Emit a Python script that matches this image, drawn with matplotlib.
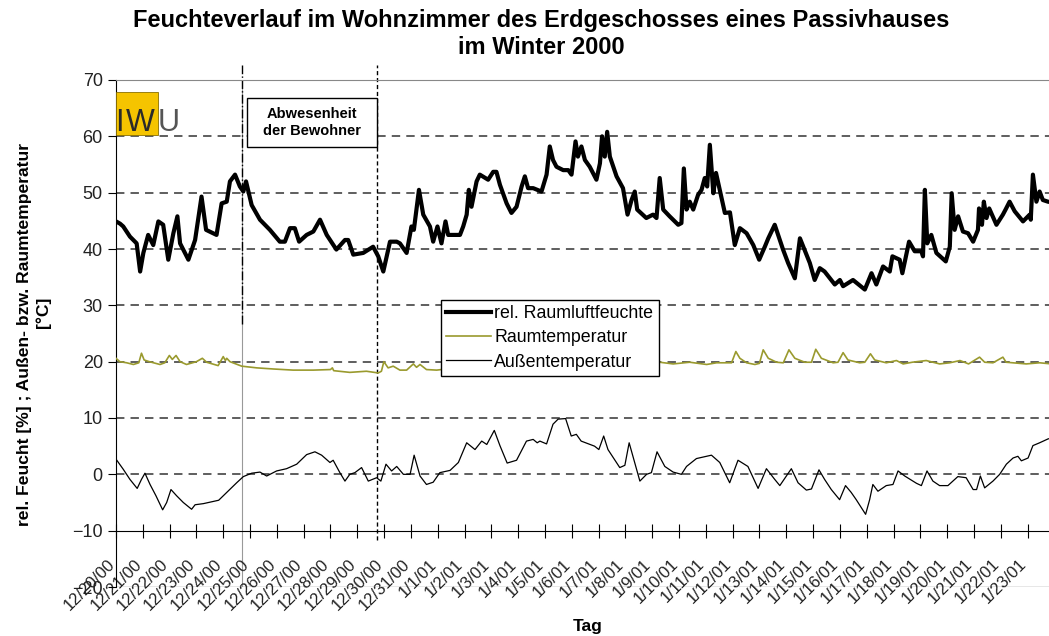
import matplotlib.pyplot as plt
import matplotlib.transforms as mtransforms
import pandas as pd
from matplotlib.patches import Rectangle

plt.rcParams['font.family'] = ['Liberation Sans', 'DejaVu Sans']

# Tage ab 20.12.2000 (0 = 12/20/00 00:00)
days = pd.date_range('2000-12-20', '2001-01-23')
tick_labels = [f"{d.month}/{d.day}/{d:%y}" for d in days]

# rel. Raumluftfeuchte [%]
hum_day = [0.00, 0.15, 0.27, 0.52, 0.77, 0.90, 1.02, 1.20, 1.39, 1.58, 1.76, 1.95, 2.14, 2.29,
           2.39, 2.70, 2.95, 3.19, 3.36, 3.75, 3.94, 4.13, 4.25, 4.44, 4.62, 4.75, 4.85, 5.06,
           5.37, 5.74, 6.11, 6.30, 6.49, 6.67, 6.83, 7.11, 7.36, 7.61, 7.86, 8.22, 8.54, 8.66,
           8.85, 9.22, 9.59, 9.78, 9.97, 10.22, 10.47, 10.59, 10.84, 11.02, 11.11, 11.30, 11.46,
           11.71, 11.83, 11.99, 12.14, 12.29, 12.39, 12.83, 12.95, 13.08, 13.16, 13.26, 13.45,
           13.57, 13.88, 14.07, 14.19, 14.32, 14.57, 14.75, 14.94, 15.13, 15.25, 15.37, 15.56,
           15.87, 16.06, 16.18, 16.30, 16.43, 16.68, 16.87, 16.99, 17.14, 17.23, 17.36, 17.49,
           17.67, 17.92, 18.05, 18.13, 18.23, 18.32, 18.42, 18.67, 18.91, 19.08, 19.23, 19.35,
           19.44, 19.78, 20.03, 20.16, 20.28, 20.41, 20.65, 20.97, 21.09, 21.18, 21.28, 21.40,
           21.53, 21.71, 21.84, 21.96, 22.05, 22.15, 22.28, 22.38, 22.52, 22.71, 22.90, 23.08,
           23.27, 23.52, 23.77, 23.99, 24.20, 24.33, 24.57, 24.88, 25.07, 25.32, 25.51, 25.88,
           26.06, 26.25, 26.43, 26.81, 27.00, 27.12, 27.49, 27.93, 28.18, 28.36, 28.61, 28.86,
           28.96, 29.23, 29.33, 29.58, 29.79, 30.04, 30.10, 30.17, 30.26, 30.41, 30.60, 30.95,
           31.10, 31.17, 31.28, 31.41, 31.59, 31.78, 31.97, 32.15, 32.19, 32.30, 32.37, 32.47,
           32.57, 32.84, 33.08, 33.18, 33.33, 33.52, 33.83, 34.08, 34.12, 34.20, 34.33, 34.45,
           34.57, 34.76, 34.90]
hum_val = [44.9, 44.5, 44.0, 42.2, 41.0, 36.0, 39.3, 42.5, 40.7, 44.9, 44.3, 38.1, 42.8, 45.8,
           41.0, 38.1, 41.6, 49.3, 43.4, 42.5, 48.1, 48.4, 52.0, 53.2, 51.1, 50.2, 52.0, 47.8,
           45.2, 43.4, 41.3, 41.3, 43.7, 43.7, 41.3, 42.5, 43.1, 45.2, 42.5, 39.9, 41.6, 41.6,
           39.0, 39.3, 40.4, 38.7, 36.0, 41.3, 41.3, 41.0, 39.3, 44.0, 43.4, 50.5, 46.1,
           44.0, 41.3, 44.0, 41.0, 44.9, 42.5, 42.5, 44.0, 46.1, 50.5, 47.5, 52.0,
           53.2, 52.3, 53.7, 53.7, 51.4, 48.1, 46.4, 47.5, 51.1, 52.9, 50.8, 50.8,
           50.2, 53.2, 58.2, 55.8, 54.6, 54.0, 54.0, 53.2, 59.1, 56.4, 58.2, 55.8,
           54.6, 52.3, 55.2, 60.0, 56.4, 60.8, 56.4, 52.9, 50.8, 46.1, 48.7, 50.2,
           47.0, 45.5, 46.1, 45.5, 52.6, 47.0, 45.8, 44.3, 44.6, 54.3, 47.0, 48.4,
           47.0, 49.6, 50.5, 52.6, 51.1, 58.5, 49.9, 53.5, 50.5, 46.4, 46.5, 40.7,
           43.7, 42.8, 40.7, 38.1, 40.4, 41.9, 44.3, 39.9, 37.5, 34.8, 41.9, 37.5,
           34.5, 36.6, 36.0, 33.7, 34.5, 33.4, 34.5, 32.8, 35.7, 33.7, 36.9, 36.0,
           38.7, 38.1, 35.7, 41.3, 39.6, 39.6, 38.7, 50.5, 41.0, 42.5, 39.3, 37.8,
           40.4, 49.9, 43.4, 45.8, 43.1, 42.8, 41.3, 43.4, 47.2, 44.3, 48.4, 45.5,
           47.2, 44.3, 46.1, 47.0, 48.4, 46.7, 44.9, 46.1, 45.2, 53.2, 48.4, 50.2,
           48.7, 48.4, 48.3]

# Raumtemperatur [°C]
tin_day = [0.00, 0.14, 0.40, 0.65, 0.85, 0.95, 1.05, 1.24, 1.64, 1.82, 1.99, 2.10, 2.14, 2.24,
           2.39, 2.63, 3.00, 3.22, 3.38, 3.81, 4.00, 4.08, 4.13, 4.25, 4.69, 5.25, 5.87, 6.61,
           7.36, 8.00, 8.07, 8.12, 8.72, 9.34, 9.78, 9.90, 9.99, 10.15, 10.34, 10.59, 10.84,
           11.09, 11.21, 11.34, 11.58, 11.96, 12.50, 13.50, 14.50, 15.50, 16.50, 17.50, 18.50,
           19.50, 20.28, 20.78, 21.40, 22.03, 22.40, 22.96, 23.12, 23.27, 23.52, 23.83, 24.00,
           24.14, 24.33, 24.64, 24.89, 25.10, 25.32, 25.69, 25.94, 26.10, 26.31, 26.75, 26.93,
           27.12, 27.30, 27.74, 27.93, 28.14, 28.30, 28.73, 29.11, 29.36, 29.70, 30.22, 30.72,
           31.10, 31.48, 31.80, 32.21, 32.40, 32.71, 33.08, 33.20, 33.95, 34.45, 34.90]
tin_val = [20.6, 20.0, 19.8, 19.5, 19.8, 21.5, 20.3, 20.0, 19.5, 19.8, 21.1, 20.4, 20.6, 21.1,
           20.0, 19.5, 20.0, 20.6, 19.9, 19.3, 20.9, 20.2, 20.6, 20.0, 19.2, 18.9, 18.7, 18.5,
           18.5, 18.6, 18.9, 18.4, 18.1, 18.3, 18.0, 18.3, 20.0, 18.9, 19.2, 18.5, 18.5,
           19.6, 19.0, 19.5, 18.6, 18.5, 18.8, 18.9, 19.0, 19.1, 19.2, 19.3, 19.4,
           19.5, 19.9, 19.6, 19.9, 19.5, 19.8, 19.8, 21.8, 20.6, 19.8, 19.5, 19.7,
           22.1, 20.6, 19.9, 19.8, 22.1, 20.6, 19.9, 19.9, 22.2, 20.6, 19.8, 19.9,
           21.6, 20.3, 19.8, 19.9, 21.4, 20.3, 19.8, 20.2, 19.6, 19.9, 20.2, 19.6,
           19.8, 20.2, 19.6, 20.8, 19.9, 19.8, 20.8, 19.9, 19.6, 19.8, 19.6]

# Außentemperatur [°C]
tout_day = [0.00, 0.27, 0.52, 0.79, 0.95, 1.08, 1.27, 1.49, 1.74, 1.89, 2.05, 2.26, 2.51, 2.82,
            2.95, 3.26, 3.64, 3.83, 4.13, 4.50, 4.75, 5.06, 5.37, 5.62, 5.99, 6.36, 6.74, 7.11,
            7.42, 7.67, 7.98, 8.10, 8.35, 8.54, 8.72, 8.91, 9.16, 9.41, 9.72, 9.88, 10.07, 10.28,
            10.47, 10.72, 10.97, 11.12, 11.34, 11.58, 11.83, 12.08, 12.46, 12.77, 13.08, 13.39,
            13.64, 13.83, 14.11, 14.32, 14.59, 14.94, 15.31, 15.56, 15.71, 15.81, 16.06, 16.30,
            16.49, 16.77, 16.98, 17.17, 17.35, 17.85, 18.01, 18.19, 18.35, 18.79, 18.98, 19.14,
            19.54, 19.79, 19.97, 20.18, 20.47, 20.78, 21.09, 21.28, 21.65, 22.21, 22.52, 22.89,
            23.20, 23.57, 23.95, 24.26, 24.57, 24.76, 25.19, 25.44, 25.75, 25.94, 26.22, 26.43,
            26.68, 26.99, 27.21, 27.42, 27.61, 27.96, 28.11, 28.23, 28.42, 28.73, 28.98, 29.17,
            29.42, 29.86, 30.04, 30.25, 30.47, 30.72, 31.03, 31.40, 31.71, 31.97, 32.10, 32.24,
            32.40, 32.71, 32.96, 33.21, 33.46, 33.64, 33.77, 34.02, 34.20, 34.45, 34.77, 34.90]
tout_val = [2.7, 0.9, -0.9, -2.5, -0.9, 0.2, -1.8, -3.8, -6.3, -5.0, -2.7, -3.8, -5.0, -6.2,
            -5.4, -5.2, -4.8, -4.6, -3.2, -1.5, -0.4, 0.2, 0.4, -0.3, 0.6, 1.0, 1.8, 3.5,
            4.0, 3.4, 2.1, 2.5, 0.3, -1.2, 0.0, 0.3, 1.2, -1.2, -0.6, -1.2, 1.8, 0.6,
            1.4, 0.0, 0.0, 3.4, -0.3, -1.8, -1.4, 0.3, 0.7, 2.1, 5.6, 4.4,
            5.9, 5.3, 7.8, 5.1, 2.0, 2.5, 5.9, 6.2, 5.6, 5.9, 5.4, 8.9,
            9.8, 9.9, 6.8, 7.1, 5.9, 5.0, 4.4, 6.8, 4.4, 1.2, 1.6, 5.6,
            -1.2, 0.0, 0.3, 4.0, 1.4, 0.4, 0.0, 1.4, 2.8, 3.4, 2.1, -1.5,
            2.5, 1.4, -2.5, 1.0, -0.9, -2.0, 1.0, -1.5, -2.8, -2.6, 0.8, -0.9,
            -2.7, -4.5, -2.0, -3.2, -4.5, -7.1, -4.5, -1.8, -3.0, -2.0, -1.8, 0.6,
            -0.3, -1.6, -2.0, 0.6, -1.2, -2.0, -2.0, -0.4, -0.6, -2.7, -2.7, -0.3,
            -2.4, -1.2, 0.0, 1.8, 2.9, 3.2, 2.4, 2.9, 5.1, 5.6, 6.3, 6.4]

# Abwesenheit der Bewohner (Tage)
absence_start = 4.70
absence_end = 9.73

W, H = 1049, 636
fig = plt.figure(figsize=(W / 100, H / 100), dpi=100)
ax = fig.add_axes([116 / W, 1 - 587 / H, 1 - 116 / W, (587 - 80) / H])

ax.set_xlim(0, 34.8)
ax.set_ylim(-20, 70)

# Gitterlinien gestrichelt
for v in [60, 50, 40, 30, 20, 10, 0]:
    ax.axhline(v, color='#333333', lw=1.1, dashes=(5.5, 4), zorder=0)
ax.axhline(-20, color='#888888', lw=1, zorder=0)

ax.plot(hum_day, hum_val, color='black', lw=3, label='rel. Raumluftfeuchte',
        solid_joinstyle='round', zorder=3)
ax.plot(tin_day, tin_val, color='#9a9a2e', lw=1.2, label='Raumtemperatur', zorder=3)
ax.plot(tout_day, tout_val, color='black', lw=0.9, label='Außentemperatur', zorder=3)

# Abwesenheit markieren
ax.vlines(absence_start, -20, 70, color='#999999', lw=0.8, zorder=1)
ax.plot([absence_start, absence_start], [26.6, 72.7], color='black', lw=1,
        linestyle='-.', clip_on=False, zorder=2)
ax.plot([absence_end, absence_end], [-11.6, 72.7], color='black', lw=1,
        linestyle=(0, (3, 2)), clip_on=False, zorder=2)
ax.add_patch(Rectangle((4.88, 58.1), absence_end - 4.88, 8.7, fc='white', ec='black',
                       lw=1, zorder=4))
ax.text((4.88 + absence_end) / 2, 62.45, 'Abwesenheit\nder Bewohner', ha='center',
        va='center', fontsize=10.5, fontweight='bold', linespacing=1.3, zorder=5)

# Achsen
ax.spines['right'].set_visible(False)
ax.spines['top'].set_color('#888888')
ax.spines['bottom'].set_position(('data', -10))
ax.set_yticks(range(-20, 71, 10))
ax.tick_params(axis='y', direction='out', length=6, labelsize=13, labelcolor='#222222')
ax.set_xticks(range(len(tick_labels)))
ax.set_xticklabels(tick_labels, rotation=45, ha='right', rotation_mode='anchor',
                   fontsize=12, color='#222222')
ax.tick_params(axis='x', direction='inout', length=10, pad=10)
shift = mtransforms.ScaledTranslation(-9 / 100, -5 / 100, fig.dpi_scale_trans)
for lab in ax.get_xticklabels():
    lab.set_transform(lab.get_transform() + shift)

ax.legend(loc='upper left', bbox_to_anchor=(441 / W, 1 - 300 / H),
          bbox_transform=fig.transFigure, fontsize=12.8, frameon=True, fancybox=False,
          edgecolor='black', framealpha=1, borderaxespad=0, borderpad=0.3,
          handlelength=2.5, handletextpad=0.2, labelspacing=0.4)

# IWU Logo
fig.patches.append(Rectangle((116 / W, 1 - 135 / H), 42 / W, 43 / H, fc='#f5c400',
                             ec='#8a7000', lw=0.6, transform=fig.transFigure))
for ch, cx, col in [('I', 119.5, '#2a2a2a'), ('W', 140.5, '#2a2a2a'), ('U', 169, '#555555')]:
    fig.text(cx / W, 1 - 131 / H, ch, ha='center', va='baseline', fontsize=22,
             color=col)

fig.text(541 / W, 1 - 9 / H,
         'Feuchteverlauf im Wohnzimmer des Erdgeschosses eines Passivhauses\nim Winter 2000',
         ha='center', va='top', fontsize=17, fontweight='bold', linespacing=1.2)
fig.text(25 / W, 1 - 335 / H, 'rel. Feucht [%] ; Außen- bzw. Raumtemperatur',
         rotation=90, ha='center', va='center', fontsize=12.6, fontweight='bold')
fig.text(43 / W, 1 - 312 / H, '[°C]',
         rotation=90, ha='center', va='center', fontsize=12.6, fontweight='bold')
fig.text(588 / W, 1 - 627 / H, 'Tag', ha='center', va='center', fontsize=12.5,
         fontweight='bold')

fig.savefig('out.png', dpi=100)
